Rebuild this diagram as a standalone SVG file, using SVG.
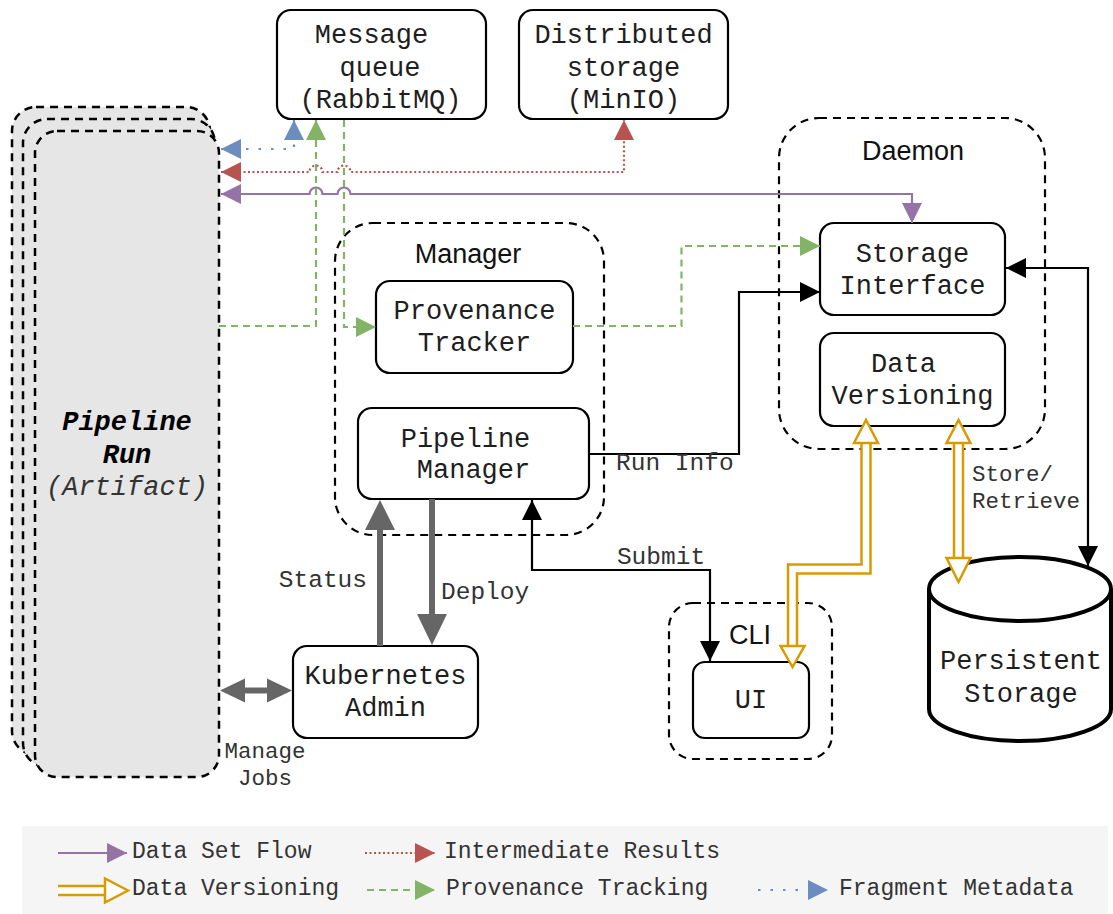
<svg xmlns="http://www.w3.org/2000/svg" width="1113" height="914" viewBox="0 0 1113 914">
  <style>
    .mono { font-family: "Liberation Mono", "Courier New", monospace; }
    .sans { font-family: "Liberation Sans", Arial, Helvetica, sans-serif; }
    .node-text { font-size: 27px; fill: #1e1e1e; text-anchor: middle; }
    .group-title { font-size: 27px; fill: #111; text-anchor: middle; }
    .edge-label { font-size: 24.5px; fill: #333; }
    .small-label { font-size: 22.5px; fill: #333; }
    .legend-text { font-size: 23px; fill: #333; }
    .box { fill: #fff; stroke: #000; stroke-width: 2.2; }
    .container { fill: none; stroke: #000; stroke-width: 2.2; stroke-dasharray: 8 6; }
    .stack { fill: #e6e6e6; stroke: #000; stroke-width: 2.5; stroke-dasharray: 8 6; }
    .flow-purple { fill: none; stroke: #9673a6; stroke-width: 2.2; }
    .flow-red { fill: none; stroke: #b85450; stroke-width: 2.2; stroke-dasharray: 2 2.5; }
    .flow-green { fill: none; stroke: #82b366; stroke-width: 2.2; stroke-dasharray: 7 5; }
    .flow-blue { fill: none; stroke: #6c8ebf; stroke-width: 2.2; stroke-dasharray: 2.5 10; }
    .flow-black { fill: none; stroke: #000; stroke-width: 2.2; }
    .thick-gray { fill: none; stroke: #666; stroke-width: 6; }
    .dv-outer { fill: none; stroke: #d79b00; stroke-width: 11.5; stroke-linejoin: miter; }
    .dv-inner { fill: none; stroke: #fff; stroke-width: 6.5; stroke-linejoin: miter; }
    .dv-head { fill: #fff; stroke: #d79b00; stroke-width: 2.5; stroke-linejoin: miter; }
    .gray-head { fill: #666; }
  </style>
  <defs>
    <marker id="ah-purple" viewBox="0 0 20 20" refX="20" refY="10" markerWidth="20" markerHeight="20" markerUnits="userSpaceOnUse" orient="auto-start-reverse">
      <path d="M0,0 L20,10 L0,20 z" fill="#9673a6"/>
    </marker>
    <marker id="ah-red" viewBox="0 0 20 20" refX="20" refY="10" markerWidth="20" markerHeight="20" markerUnits="userSpaceOnUse" orient="auto-start-reverse">
      <path d="M0,0 L20,10 L0,20 z" fill="#b85450"/>
    </marker>
    <marker id="ah-green" viewBox="0 0 20 20" refX="20" refY="10" markerWidth="20" markerHeight="20" markerUnits="userSpaceOnUse" orient="auto-start-reverse">
      <path d="M0,0 L20,10 L0,20 z" fill="#82b366"/>
    </marker>
    <marker id="ah-blue" viewBox="0 0 20 20" refX="20" refY="10" markerWidth="20" markerHeight="20" markerUnits="userSpaceOnUse" orient="auto-start-reverse">
      <path d="M0,0 L20,10 L0,20 z" fill="#6c8ebf"/>
    </marker>
    <marker id="ah-black" viewBox="0 0 20 20" refX="20" refY="10" markerWidth="20" markerHeight="20" markerUnits="userSpaceOnUse" orient="auto-start-reverse">
      <path d="M0,0 L20,10 L0,20 z" fill="#000"/>
    </marker>
  </defs>

  <rect width="1113" height="914" fill="#fff"/>

  <!-- Stacked pipeline run artifacts -->
  <g id="pipeline-run">
    <rect class="stack" x="12" y="107" width="198" height="648" rx="24"/>
    <rect class="stack" x="23" y="119" width="192" height="648" rx="24"/>
    <rect class="stack" x="35" y="131" width="184" height="646" rx="22"/>
    <text class="mono" x="127" y="430" font-size="27" font-weight="bold" font-style="italic" text-anchor="middle" fill="#000">Pipeline</text>
    <text class="mono" x="127" y="463" font-size="27" font-weight="bold" font-style="italic" text-anchor="middle" fill="#000">Run</text>
    <text class="mono" x="127" y="495" font-size="27" font-style="italic" text-anchor="middle" fill="#333">(Artifact)</text>
  </g>

  <!-- Group containers -->
  <g id="manager">
    <rect class="container" x="335" y="223" width="269" height="312" rx="38"/>
    <text class="sans group-title" x="468" y="263">Manager</text>
  </g>
  <g id="daemon">
    <rect class="container" x="779" y="118" width="266" height="331" rx="40"/>
    <text class="sans group-title" x="913" y="160">Daemon</text>
  </g>
  <g id="cli">
    <rect class="container" x="669" y="603" width="163" height="156" rx="24"/>
    <text class="sans group-title" x="750" y="644">CLI</text>
  </g>

  <!-- Components -->
  <g id="message-queue">
    <rect class="box" x="277" y="10" width="209" height="109" rx="14"/>
    <text class="mono node-text" x="371.5" y="43">Message</text>
    <text class="mono node-text" x="380" y="75.5">queue</text>
    <text class="mono node-text" x="380.5" y="108">(RabbitMQ)</text>
  </g>
  <g id="distributed-storage">
    <rect class="box" x="519" y="10" width="209" height="109" rx="14"/>
    <text class="mono node-text" x="623.5" y="43">Distributed</text>
    <text class="mono node-text" x="623.5" y="75.5">storage</text>
    <text class="mono node-text" x="623.5" y="108">(MinIO)</text>
  </g>
  <g id="storage-interface">
    <rect class="box" x="820" y="223" width="185" height="92" rx="14"/>
    <text class="mono node-text" x="912.5" y="262">Storage</text>
    <text class="mono node-text" x="912.5" y="294">Interface</text>
  </g>
  <g id="data-versioning">
    <rect class="box" x="820" y="333" width="185" height="93" rx="14"/>
    <text class="mono node-text" x="903.5" y="372">Data</text>
    <text class="mono node-text" x="912.5" y="404">Versioning</text>
  </g>
  <g id="provenance-tracker">
    <rect class="box" x="376" y="281" width="197" height="92" rx="14"/>
    <text class="mono node-text" x="474.5" y="319">Provenance</text>
    <text class="mono node-text" x="474.5" y="351">Tracker</text>
  </g>
  <g id="pipeline-manager">
    <rect class="box" x="358" y="408" width="231" height="91" rx="14"/>
    <text class="mono node-text" x="465.5" y="447">Pipeline</text>
    <text class="mono node-text" x="473.5" y="478">Manager</text>
  </g>
  <g id="kubernetes-admin">
    <rect class="box" x="293" y="646" width="185" height="92" rx="14"/>
    <text class="mono node-text" x="385.5" y="684">Kubernetes</text>
    <text class="mono node-text" x="385.5" y="716">Admin</text>
  </g>
  <g id="ui">
    <rect class="box" x="693" y="662" width="116" height="76" rx="12"/>
    <text class="mono node-text" x="751" y="708">UI</text>
  </g>
  <g id="persistent-storage">
    <path d="M929,589 A91,32 0 0 1 1111,589 V709 A91,32 0 0 1 929,709 Z" fill="#fff" stroke="#000" stroke-width="4"/>
    <path d="M929,589 A91,32 0 0 0 1111,589" fill="none" stroke="#000" stroke-width="4"/>
    <text class="mono node-text" x="1021" y="669">Persistent</text>
    <text class="mono node-text" x="1021" y="702">Storage</text>
  </g>

  <!-- Connectors -->
  <g id="connectors">
    <!-- fragment metadata: run <-> message queue -->
    <path class="flow-blue" d="M221,149 H294 V120" marker-start="url(#ah-blue)" marker-end="url(#ah-blue)"/>
    <!-- intermediate results: run <-> distributed storage (hops over provenance lines) -->
    <path class="flow-red" d="M221,172 H309.5 A6.5,6.5 0 0 1 322.5,172 H337.5 A6.5,6.5 0 0 1 350.5,172 H624 V120" marker-start="url(#ah-red)" marker-end="url(#ah-red)"/>
    <!-- data set flow: run <-> storage interface -->
    <path class="flow-purple" d="M221,194 H309.5 A6.5,6.5 0 0 1 322.5,194 H337.5 A6.5,6.5 0 0 1 350.5,194 H912 V223" marker-start="url(#ah-purple)" marker-end="url(#ah-purple)"/>
    <!-- provenance tracking -->
    <path class="flow-green" d="M219,326 H316 V120" marker-end="url(#ah-green)"/>
    <path class="flow-green" d="M344,120 V327 H376" marker-end="url(#ah-green)"/>
    <path class="flow-green" d="M573,326 H681.5 V246 H820" marker-end="url(#ah-green)"/>
    <!-- run info -->
    <path class="flow-black" d="M589,454 H739 V292 H820" marker-end="url(#ah-black)"/>
    <!-- storage interface <-> persistent storage -->
    <path class="flow-black" d="M1006,268 H1088 V566" marker-start="url(#ah-black)" marker-end="url(#ah-black)"/>
    <!-- submit -->
    <path class="flow-black" d="M532,500 V570 H710 V661" marker-start="url(#ah-black)" marker-end="url(#ah-black)"/>

    <!-- status / deploy -->
    <path class="thick-gray" d="M380,646 V528"/>
    <polygon class="gray-head" points="380,500 365,530 395,530"/>
    <path class="thick-gray" d="M432,499 V616"/>
    <polygon class="gray-head" points="432,645 417,614 447,614"/>
    <!-- manage jobs -->
    <path class="thick-gray" d="M243,690.5 H269"/>
    <polygon class="gray-head" points="220,690.5 245,678.5 245,702.5"/>
    <polygon class="gray-head" points="292,690.5 267,678.5 267,702.5"/>

    <!-- data versioning: UI <-> data versioning -->
    <path class="dv-outer" d="M792.5,646 V569 H866 V443"/>
    <path class="dv-inner" d="M792.5,647 V569 H866 V442"/>
    <polygon class="dv-head" points="866,420 854,443 878,443"/>
    <polygon class="dv-head" points="792.5,667 780.5,646 804.5,646"/>
    <!-- data versioning: store / retrieve -->
    <path class="dv-outer" d="M958.5,443 V558"/>
    <path class="dv-inner" d="M958.5,442 V559"/>
    <polygon class="dv-head" points="958.5,420 946.5,443 970.5,443"/>
    <polygon class="dv-head" points="958.5,582 946.5,558 970.5,558"/>
  </g>

  <!-- Connector labels -->
  <g id="connector-labels">
    <text class="mono edge-label" x="367" y="587" text-anchor="end">Status</text>
    <text class="mono edge-label" x="441" y="599">Deploy</text>
    <text class="mono edge-label" x="616" y="470">Run Info</text>
    <text class="mono edge-label" x="661" y="564" text-anchor="middle">Submit</text>
    <text class="mono small-label" x="972" y="481">Store/</text>
    <text class="mono small-label" x="972" y="508">Retrieve</text>
    <text class="mono small-label" x="265" y="758" text-anchor="middle">Manage</text>
    <text class="mono small-label" x="265" y="785" text-anchor="middle">Jobs</text>
  </g>

  <!-- Legend -->
  <g id="legend">
    <rect x="22" y="826" width="1086" height="88" fill="#f5f5f5"/>
    <path class="flow-purple" d="M58,853 H127" marker-end="url(#ah-purple)"/>
    <text class="mono legend-text" x="132" y="858">Data Set Flow</text>
    <path class="flow-red" d="M365,853 H435" marker-end="url(#ah-red)"/>
    <text class="mono legend-text" x="444" y="858">Intermediate Results</text>

    <path class="dv-outer" d="M58,890.5 H105"/>
    <path class="dv-inner" d="M58,890.5 H106"/>
    <polygon class="dv-head" points="128,890.5 105,878.5 105,902.5"/>
    <text class="mono legend-text" x="132" y="895">Data Versioning</text>
    <path class="flow-green" d="M367,890 H435" marker-end="url(#ah-green)"/>
    <text class="mono legend-text" x="446" y="895">Provenance Tracking</text>
    <path class="flow-blue" d="M758,890 H828" marker-end="url(#ah-blue)"/>
    <text class="mono legend-text" x="839" y="895">Fragment Metadata</text>
  </g>
</svg>
